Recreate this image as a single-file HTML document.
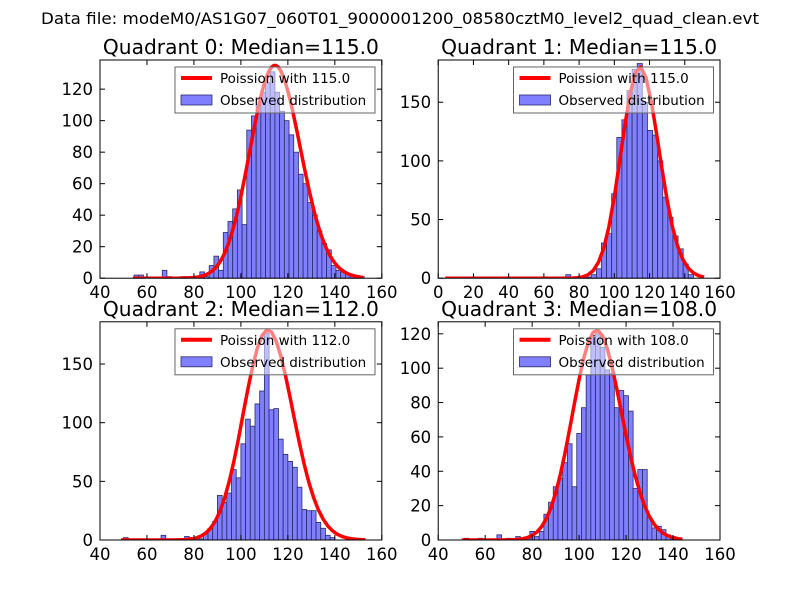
<!DOCTYPE html>
<html><head><meta charset="utf-8">
<style>
html,body{margin:0;padding:0;background:#fff;}
svg{display:block;font-family:"DejaVu Sans","Liberation Sans",sans-serif;}
</style></head>
<body>
<svg id="fig" width="800" height="600" viewBox="0 0 800 600" xmlns="http://www.w3.org/2000/svg">
<rect x="0" y="0" width="800" height="600" fill="#fff"/>
<text x="400" y="24" text-anchor="middle" font-size="16" textLength="718" lengthAdjust="spacingAndGlyphs">Data file: modeM0/AS1G07_060T01_9000001200_08580cztM0_level2_quad_clean.evt</text>
</svg>
<script>
// ---- data ----
const q0Counts=[2,2,0,0,0,0,5,1,0,0,1,1,0,0,4,1,8,14,5,29,36,44,56,34,94,103,110,118,124,131,118,106,100,91,80,66,60,48,40,30,22,18,8,5,4,3,2,1,1];
const q1Counts=[3,1,0,1,1,3,8,30,38,72,120,135,160,178,183,150,126,122,100,69,52,36,25,12,3];
const q2Counts=[2,0,0,0,0,0,0,0,4,0,0,0,0,3,2,0,1,6,10,16,38,32,40,60,53,82,103,97,116,127,176,111,112,86,73,67,62,45,26,25,25,15,10,4,2];
const q3Counts=[1,0,0,1,0,0,0,3,0,1,0,2,0,1,5,2,5,15,22,31,36,45,56,31,62,77,96,118,120,112,99,97,77,87,84,75,30,41,41,13,7,8,6,3,2];
const binStarts=[54.5,72.4,50,51];
const binWidths=[2,2.9,2,2];
const medians=[115,115,112,108];
const curvePeaks=[135,180,179,122];
const curveRanges=[[54,152],[4,152],[49,153],[50,145]];
const curveSteps=[1,3,2,2];
const xTicks=[[40,60,80,100,120,140,160],[0,20,40,60,80,100,120,140,160],[40,60,80,100,120,140,160],[40,60,80,100,120,140,160]];
const yTicks=[[0,20,40,60,80,100,120],[0,50,100,150],[0,50,100,150],[0,20,40,60,80,100,120]];
const xLims=[[40,160],[0,160],[40,160],[40,160]];
const yMaxes=[138.5,186,186,127];
const allCounts=[q0Counts,q1Counts,q2Counts,q3Counts];

const NS="http://www.w3.org/2000/svg";
const svg=document.getElementById('fig');
function mk(tag,attrs,parent){const e=document.createElementNS(NS,tag);for(const k in attrs)e.setAttribute(k,attrs[k]);(parent||svg).appendChild(e);return e;}
function lfact(n){let s=0;for(let i=2;i<=n;i++)s+=Math.log(i);return s;}
function logPois(k,mu){return k*Math.log(mu)-mu-lfact(k);}

const boxes=[[100,60],[438.2,60],[100,321.8],[438.2,321.8]];
const W=281.8,H=218.2;
for(let q=0;q<4;q++){
  const [L,T]=boxes[q];
  const g=mk('g',{});
  
  
  const xs=v=>L+(v-xLims[q][0])/(xLims[q][1]-xLims[q][0])*W;
  const ys=v=>T+H-v/yMaxes[q]*H;
  // bars
  const counts=allCounts[q];
  for(let i=0;i<counts.length;i++){
    if(counts[i]<=0)continue;
    const x0=xs(binStarts[q]+i*binWidths[q]),x1=xs(binStarts[q]+(i+1)*binWidths[q]);
    const r=mk('rect',{x:x0,y:ys(counts[i]),width:x1-x0,height:ys(0)-ys(counts[i]),fill:'#7f7fff',stroke:'#2a2a6a','stroke-width':0.8},g);
    
    
  }
  // poisson curve
  const mu=medians[q],peakK=Math.floor(mu);
  const ref=logPois(peakK,mu);
  let pts=[];
  for(let k=curveRanges[q][0];k<=curveRanges[q][1];k+=curveSteps[q]){
    const v=curvePeaks[q]*Math.exp(logPois(k,mu)-ref);
    pts.push(xs(k).toFixed(1)+','+ys(v).toFixed(1));
  }
  const clip=mk('clipPath',{id:'clip'+q},g);
  mk('rect',{x:L,y:T,width:W,height:H},clip);
  const pl=mk('polyline',{points:pts.join(' '),fill:'none',stroke:'#ff0000','stroke-width':3.5,'stroke-linejoin':'round','clip-path':'url(#clip'+q+')'},g);
  
  
  // axes frame
  const fr=mk('rect',{x:L,y:T,width:W,height:H,fill:'none',stroke:'#000','stroke-width':1},g);
  
  
  // ticks
  for(const t of xTicks[q]){
    const x=xs(t);
    mk('line',{x1:x,y1:T+H,x2:x,y2:T+H-5,stroke:'#000'},g);
    mk('line',{x1:x,y1:T,x2:x,y2:T+5,stroke:'#000'},g);
    const tx=mk('text',{x:x,y:T+H+20,'text-anchor':'middle','font-size':16.5},g);
    tx.textContent=t;
    
    
  }
  for(const t of yTicks[q]){
    const y=ys(t);
    mk('line',{x1:L,y1:y,x2:L+5,y2:y,stroke:'#000'},g);
    mk('line',{x1:L+W,y1:y,x2:L+W-5,y2:y,stroke:'#000'},g);
    const tx=mk('text',{x:L-7,y:y+6,'text-anchor':'end','font-size':16.5},g);
    tx.textContent=t;
    
    
  }
  // title
  const ti=mk('text',{x:L+W/2,y:T-6,'text-anchor':'middle','font-size':20,textLength:276,lengthAdjust:'spacingAndGlyphs'},g);
  ti.textContent='Quadrant '+q+': Median='+mu.toFixed(1);
  
  
  // legend
  const lx=(q%2===0)?175:513.5, ly=T+7;
  const lg=mk('g',{},g);
  
  
  mk('rect',{x:lx,y:ly,width:200,height:46,fill:'#fff','fill-opacity':0.5,stroke:'#666','stroke-width':1},lg);
  mk('line',{x1:lx+6,y1:ly+11,x2:lx+37,y2:ly+11,stroke:'#ff0000','stroke-width':4},lg);
  const t1=mk('text',{x:lx+45,y:ly+16,'font-size':13.5},lg);
  t1.textContent='Poission with '+mu.toFixed(1);
  
  
  mk('rect',{x:lx+6,y:ly+28,width:31,height:10,fill:'#7f7fff',stroke:'#2a2a6a','stroke-width':0.8},lg);
  const t2=mk('text',{x:lx+45,y:ly+38,'font-size':13.5},lg);
  t2.textContent='Observed distribution';
  
  
}
</script>
</body></html>
